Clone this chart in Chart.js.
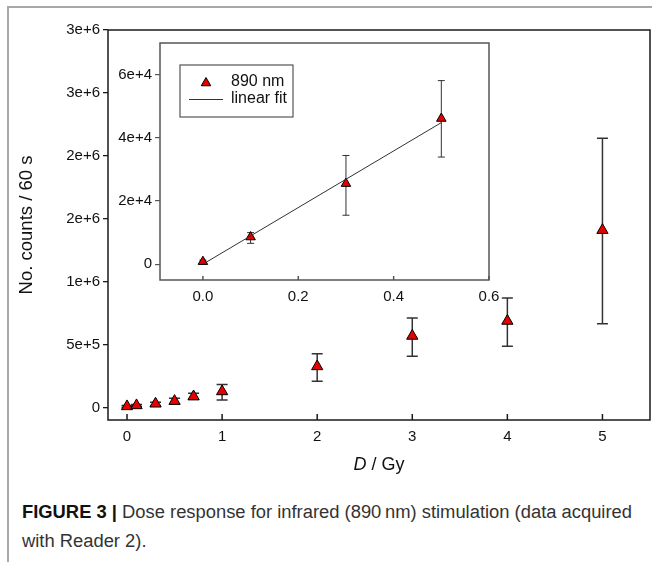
<!DOCTYPE html>
<html>
<head>
<meta charset="utf-8">
<title>Dose response, 890 nm</title>
<script src="https://cdn.jsdelivr.net/npm/chart.js@4.4.0/dist/chart.umd.min.js"></script>
<style>
    html, body { margin: 0; padding: 0; background: #fff; }
    #page { position: relative; width: 652px; height: 562px; overflow: hidden; font-family: "Liberation Sans", Arial, sans-serif; }
    #frame { position: absolute; left: 7px; top: 6px; width: 700px; height: 600px; border-left: 2px solid #a8a8a8; border-top: 2px solid #a8a8a8; }
    #mainChart { position: absolute; left: 0; top: 0; }
    #insetChart { position: absolute; left: 100px; top: 35px; }
    .cap { position: absolute; left: 22px; white-space: nowrap; font-size: 18px; line-height: 20px; color: #333; transform-origin: 0 50%; }
    .cap b { color: #111; }
</style>
</head>
<body>
<div id="page">
    <div id="frame"></div>
    <canvas id="mainChart" width="652" height="480"></canvas>
    <canvas id="insetChart" width="420" height="280"></canvas>
    <div class="cap" id="cap1" style="top:502px;"><b>FIGURE 3 |</b> Dose response for infrared (890&#8201;nm) stimulation (data acquired</div>
    <div class="cap" id="cap2" style="top:531px;">with Reader 2).</div>
</div>

<script>
// ----------------------- data -----------------------

// main plot: dose (Gy) vs counts per 60 s
const doseMain = [0, 0.1, 0.3, 0.5, 0.7, 1, 2, 3, 4, 5];
const countsMain = [8000, 16000, 29000, 50000, 87000, 127000, 326000, 568000, 687000, 1409000];
const errLowMain = [0, 8000, 15000, 30000, 62000, 58000, 209000, 406000, 486000, 666000];
const errHighMain = [15000, 24000, 42000, 72000, 113000, 183000, 427000, 711000, 870000, 2140000];

const mainXTicks = [0, 1, 2, 3, 4, 5];
const mainXLabels = ["0", "1", "2", "3", "4", "5"];
const mainYTicks = [0, 500000, 1000000, 1500000, 2000000, 2500000, 3000000];
const mainYLabels = ["0", "5e+5", "1e+6", "2e+6", "2e+6", "3e+6", "3e+6"];

// inset: low doses + linear fit
const doseInset = [0, 0.1, 0.3, 0.5];
const countsInset = [800, 8600, 25500, 46100];
const errLowInset = [300, 6600, 15500, 33900];
const errHighInset = [1300, 10000, 34400, 58100];

const fitDose = [0, 0.5];
const fitCounts = [0, 44800];

const insetXTicks = [0, 0.2, 0.4, 0.6];
const insetXLabels = ["0.0", "0.2", "0.4", "0.6"];
const insetYTicks = [0, 20000, 40000, 60000];
const insetYLabels = ["0", "2e+4", "4e+4", "6e+4"];

const seriesLabel = "890 nm";
const fitLabel = "linear fit";

// ----------------------- helpers -----------------------

const FONT = "'Liberation Sans', Arial, sans-serif";
const RED = "#e60000";

function toPoints(xs, ys) {
    return xs.map((x, i) => ({ x: x, y: ys[i] }));
}

function fixedTicks(values) {
    return scale => { scale.ticks = values.map(v => ({ value: v })); };
}

// fixed box size, and no extra room for the edge labels
function fixedSize(size) {
    return scale => {
        if (scale.isHorizontal()) scale.height = size;
        else scale.width = size;
        scale.paddingLeft = 0;
        scale.paddingRight = 0;
        scale.paddingTop = 0;
        scale.paddingBottom = 0;
    };
}

// draws the error bars behind the markers
const errorBarPlugin = {
    id: "errorBars",
    beforeDatasetsDraw(chart) {
        const ctx = chart.ctx;
        const yScale = chart.scales.y;
        chart.data.datasets.forEach((ds, di) => {
            if (!ds.errLow) return;
            const meta = chart.getDatasetMeta(di);
            ctx.save();
            ctx.strokeStyle = ds.errColor;
            ctx.lineWidth = ds.errWidth;
            meta.data.forEach((pt, i) => {
                const yLo = yScale.getPixelForValue(ds.errLow[i]);
                const yHi = yScale.getPixelForValue(ds.errHigh[i]);
                const c = ds.capHalf;
                ctx.beginPath();
                ctx.moveTo(pt.x, yLo);
                ctx.lineTo(pt.x, yHi);
                ctx.moveTo(pt.x - c, yLo);
                ctx.lineTo(pt.x + c, yLo);
                ctx.moveTo(pt.x - c, yHi);
                ctx.lineTo(pt.x + c, yHi);
                ctx.stroke();
            });
            ctx.restore();
        });
    }
};

// box round the plot area + inward ticks on the x axis
const framePlugin = {
    id: "frame",
    beforeDraw(chart, args, opts) {
        if (!opts.fill) return;
        const a = chart.chartArea;
        chart.ctx.save();
        chart.ctx.fillStyle = opts.fill;
        chart.ctx.fillRect(a.left, a.top, a.right - a.left, a.bottom - a.top);
        chart.ctx.restore();
    },
    afterDraw(chart, args, opts) {
        const ctx = chart.ctx;
        const a = chart.chartArea;
        const xs = chart.scales.x;
        ctx.save();
        ctx.strokeStyle = opts.color;
        ctx.lineWidth = opts.width;
        ctx.strokeRect(a.left, a.top, a.right - a.left, a.bottom - a.top);
        ctx.beginPath();
        xs.ticks.forEach(t => {
            const px = xs.getPixelForValue(t.value);
            ctx.moveTo(px, a.bottom);
            ctx.lineTo(px, a.bottom - opts.tick);
        });
        ctx.stroke();
        ctx.restore();
    }
};

// axis titles of the main plot (D is italic)
const titlesPlugin = {
    id: "titles",
    afterDraw(chart) {
        const ctx = chart.ctx;
        const a = chart.chartArea;
        ctx.save();
        ctx.fillStyle = "#111";
        ctx.textBaseline = "middle";

        ctx.font = "18.5px " + FONT;
        ctx.save();
        ctx.translate(27, (a.top + a.bottom) / 2);
        ctx.rotate(-Math.PI / 2);
        ctx.textAlign = "center";
        ctx.fillText("No. counts / 60 s", 0, 0);
        ctx.restore();

        const cx = (a.left + a.right) / 2;
        ctx.font = "italic 18px " + FONT;
        const wD = ctx.measureText("D").width;
        ctx.font = "18px " + FONT;
        const wRest = ctx.measureText(" / Gy").width;
        let x = cx - (wD + wRest) / 2;
        ctx.textAlign = "left";
        ctx.font = "italic 18px " + FONT;
        ctx.fillText("D", x, 465);
        ctx.font = "18px " + FONT;
        ctx.fillText(" / Gy", x + wD, 465);
        ctx.restore();
    }
};

// legend box inside the inset
const insetLegendPlugin = {
    id: "insetLegend",
    afterDraw(chart) {
        const ctx = chart.ctx;
        const a = chart.chartArea;
        const bx = a.left + 20, by = a.top + 22, bw = 113, bh = 52;
        ctx.save();
        ctx.fillStyle = "#fff";
        ctx.fillRect(bx, by, bw, bh);
        ctx.strokeStyle = "#555";
        ctx.lineWidth = 1.2;
        ctx.strokeRect(bx, by, bw, bh);

        const pts = chart.data.datasets[1];
        ctx.fillStyle = pts.backgroundColor;
        ctx.strokeStyle = pts.borderColor;
        ctx.lineWidth = 1;
        Chart.helpers.drawPoint(ctx, { pointStyle: "triangle", radius: 5.5, borderWidth: 1 }, bx + 26, by + 18);

        const fit = chart.data.datasets[0];
        ctx.strokeStyle = fit.borderColor;
        ctx.lineWidth = fit.borderWidth;
        ctx.beginPath();
        ctx.moveTo(bx + 9, by + 34.5);
        ctx.lineTo(bx + 43, by + 34.5);
        ctx.stroke();

        ctx.fillStyle = "#111";
        ctx.font = "16px " + FONT;
        ctx.textBaseline = "middle";
        ctx.textAlign = "left";
        ctx.fillText(pts.label, bx + 51, by + 17);
        ctx.fillText(fit.label, bx + 51, by + 34);
        ctx.restore();
    }
};

Chart.defaults.font.family = FONT;
Chart.defaults.color = "#111";

// ----------------------- main chart -----------------------

new Chart(document.getElementById("mainChart"), {
    type: "scatter",
    data: {
        datasets: [{
            label: seriesLabel,
            data: toPoints(doseMain, countsMain),
            pointStyle: "triangle",
            pointRadius: 6.5,
            backgroundColor: RED,
            borderColor: "#000",
            borderWidth: 1,
            errLow: errLowMain,
            errHigh: errHighMain,
            errColor: "#333",
            errWidth: 1.5,
            capHalf: 5.5,
        }]
    },
    options: {
        responsive: false,
        animation: false,
        layout: { autoPadding: false, padding: { left: 0, top: 30, right: 2, bottom: 0 } },
        plugins: {
            legend: { display: false },
            tooltip: { enabled: false },
            frame: { color: "#1a1a1a", width: 1.5, tick: 6 },
        },
        scales: {
            x: {
                type: "linear",
                min: -0.2,
                max: 5.5,
                afterBuildTicks: fixedTicks(mainXTicks),
                afterFit: fixedSize(60),
                grid: { display: false, drawTicks: false },
                border: { display: false },
                ticks: {
                    padding: 8,
                    maxRotation: 0,
                    autoSkip: false,
                    font: { size: 15 },
                    callback: (v, i) => mainXLabels[i],
                },
            },
            y: {
                type: "linear",
                min: -100000,
                max: 3000000,
                afterBuildTicks: fixedTicks(mainYTicks),
                afterFit: fixedSize(108),
                grid: { drawOnChartArea: false, tickLength: 5, color: "#1a1a1a", lineWidth: 1.3 },
                border: { display: false },
                ticks: {
                    padding: 3,
                    autoSkip: false,
                    font: { size: 15 },
                    callback: (v, i) => mainYLabels[i],
                },
            },
        },
    },
    plugins: [errorBarPlugin, framePlugin, titlesPlugin],
});

// ----------------------- inset chart -----------------------

new Chart(document.getElementById("insetChart"), {
    type: "scatter",
    data: {
        datasets: [{
            type: "line",
            label: fitLabel,
            data: toPoints(fitDose, fitCounts),
            borderColor: "#333",
            borderWidth: 1,
            pointRadius: 0,
            fill: false,
        }, {
            label: seriesLabel,
            data: toPoints(doseInset, countsInset),
            pointStyle: "triangle",
            pointRadius: 5.5,
            backgroundColor: RED,
            borderColor: "#000",
            borderWidth: 1,
            errLow: errLowInset,
            errHigh: errHighInset,
            errColor: "#333",
            errWidth: 1,
            capHalf: 3.5,
        }]
    },
    options: {
        responsive: false,
        animation: false,
        layout: { autoPadding: false, padding: { left: 0, top: 8, right: 31, bottom: 0 } },
        plugins: {
            legend: { display: false },
            tooltip: { enabled: false },
            frame: { color: "#555", width: 1.5, tick: 4, fill: "#fff" },
        },
        scales: {
            x: {
                type: "linear",
                min: -0.09,
                max: 0.6,
                afterBuildTicks: fixedTicks(insetXTicks),
                afterFit: fixedSize(35),
                grid: { display: false, drawTicks: false },
                border: { display: false },
                ticks: {
                    padding: 8,
                    maxRotation: 0,
                    autoSkip: false,
                    font: { size: 15 },
                    callback: (v, i) => insetXLabels[i],
                },
            },
            y: {
                type: "linear",
                min: -5000,
                max: 70000,
                afterBuildTicks: fixedTicks(insetYTicks),
                afterFit: fixedSize(60),
                grid: { drawOnChartArea: false, tickLength: 5, color: "#555", lineWidth: 1.2 },
                border: { display: false },
                ticks: {
                    padding: 3,
                    autoSkip: false,
                    font: { size: 15 },
                    callback: (v, i) => insetYLabels[i],
                },
            },
        },
    },
    plugins: [framePlugin, errorBarPlugin, insetLegendPlugin],
});

// ----------------------- caption fit -----------------------

const cap1 = document.getElementById("cap1");
const cap2 = document.getElementById("cap2");
const capScale = 610 / cap1.getBoundingClientRect().width;
cap1.style.transform = `scaleX(${capScale})`;
cap2.style.transform = `scaleX(${capScale})`;
</script>
</body>
</html>
